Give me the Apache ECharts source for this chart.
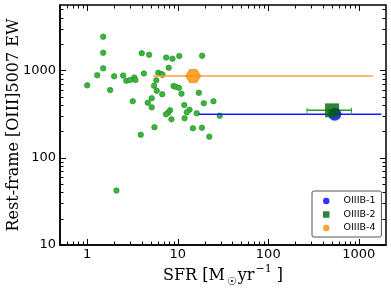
<!DOCTYPE html>
<html><head><meta charset="utf-8">
<script src="https://cdn.jsdelivr.net/npm/echarts@6/dist/echarts.min.js"></script>
<style>html,body{margin:0;padding:0;background:#fff}#c{width:391px;height:294px}</style>
</head><body><div id="c"></div>
<script>
// ---- data ----
const greenSFR = [1.50,1.50,1.50,1.29,1.00,1.98,1.79,2.49,2.70,2.97,3.31,3.41,4.00,4.82,4.23,3.18,6.09,6.61,6.78,5.79,5.47,5.86,6.74,5.16,4.66,5.16,7.46,8.74,10.4,7.95,8.99,9.50,10.3,11.0,18.6,17.1,19.4,24.8,11.8,13.5,12.6,8.22,7.85,7.41,16.2,29.1,8.52,11.9,5.53,3.90,14.7,18.5,22.3,2.10];
const greenEW  = [2430,1590,1054,879,673,854,595,872,760,774,827,774,1570,1509,919,443,939,907,891,770,666,584,532,479,425,377,1402,1358,1458,1071,661,647,630,540,1470,553,420,443,400,354,331,349,327,314,322,303,275,283,223,183,217,220,174,42];
const legendNames = ['OIIIB-1','OIIIB-2','OIIIB-4'];
const oiiib1 = [543, 315];       // SFR, EW
const oiiib1Err = [17.1, 1780];  // SFR low, high
const oiiib2 = [507, 348];
const oiiib2Err = [268, 830];
const oiiib4 = [14.8, 860];
const oiiib4Err = [5.33, 1440];
const xMajor = [1, 10, 100, 1000];
const yMajor = [10, 100, 1000];
const xMinor = [0.6,0.7,0.8,0.9,2,3,4,5,6,7,8,9,20,30,40,50,60,70,80,90,200,300,400,500,600,700,800,900];
const yMinor = [20,30,40,50,60,70,80,90,200,300,400,500,600,700,800,900,2000,3000,4000,5000];
const xRange = [0.5, 2000];
const yRange = [10, 5600];

// ---- chart ----
const chart = echarts.init(document.getElementById('c'), null, {renderer: 'canvas'});
const sans = 'DejaVu Sans';
const serif = 'DejaVu Serif';

// tick rows: [x, y, isXTick, isMajor]
const tickRows = []
  .concat(xMajor.map(v => [v, yRange[0], 1, 1]))
  .concat(xMinor.map(v => [v, yRange[0], 1, 0]))
  .concat(yMajor.map(v => [xRange[0], v, 0, 1]))
  .concat(yMinor.map(v => [xRange[0], v, 0, 0]));

const px = v => Math.round(v) + 0.5;

const tickSeries = {
  type: 'custom', name: 'ticks', z: 6, silent: true, clip: false,
  data: tickRows,
  encode: {x: 0, y: 1},
  renderItem: (params, api) => {
    const vx = api.value(0), vy = api.value(1), isX = api.value(2), len = api.value(3) ? 6 : 3.5;
    let s1, s2;
    if (isX) {
      const a = api.coord([vx, yRange[0]]), b = api.coord([vx, yRange[1]]);
      const x = px(a[0]);
      s1 = {x1: x, y1: a[1], x2: x, y2: a[1] - len};
      s2 = {x1: x, y1: b[1], x2: x, y2: b[1] + len};
    } else {
      const a = api.coord([xRange[0], vy]), b = api.coord([xRange[1], vy]);
      const y = px(a[1]);
      s1 = {x1: a[0], y1: y, x2: a[0] + len, y2: y};
      s2 = {x1: b[0], y1: y, x2: b[0] - len, y2: y};
    }
    return {type: 'group', children: [
      {type: 'line', shape: s1, style: {stroke: '#000', lineWidth: 1}},
      {type: 'line', shape: s2, style: {stroke: '#000', lineWidth: 1}}]};
  }
};

function errBar(lohi, y, color, cap, z) {
  return {
    type: 'custom', z: z, silent: true,
    data: [[lohi[0], lohi[1], y]],
    encode: {x: [0, 1], y: 2},
    renderItem: (params, api) => {
      const a = api.coord([api.value(0), api.value(2)]);
      const b = api.coord([api.value(1), api.value(2)]);
      const ch = [{type: 'line', shape: {x1: a[0], y1: a[1], x2: b[0], y2: b[1]},
                   style: {stroke: color, lineWidth: 1.5}}];
      if (cap) {
        ch.push({type: 'line', shape: {x1: a[0], y1: a[1] - cap, x2: a[0], y2: a[1] + cap}, style: {stroke: color, lineWidth: 1}});
        ch.push({type: 'line', shape: {x1: b[0], y1: b[1] - cap, x2: b[0], y2: b[1] + cap}, style: {stroke: color, lineWidth: 1}});
      }
      return {type: 'group', children: ch};
    }
  };
}

const hexPath = 'path://M0,0.866L0.5,0L1.5,0L2,0.866L1.5,1.732L0.5,1.732Z';

chart.setOption({
  animation: false,
  backgroundColor: '#fff',
  grid: {left: 60, top: 5, right: 5, bottom: 49, containLabel: false, outerBoundsMode: 'none',
         show: true, borderColor: '#000', borderWidth: 1.5, backgroundColor: 'transparent'},
  xAxis: {
    type: 'log', logBase: 10, min: xRange[0], max: xRange[1], position: 'bottom',
    axisLine: {show: true, onZero: false, lineStyle: {color: '#000', width: 1.5}},
    axisTick: {show: false},
    axisLabel: {show: true, customValues: xMajor, margin: 3, color: '#000',
                fontFamily: sans, fontSize: 13, formatter: v => String(Math.round(v))},
    splitLine: {show: false},
    name: '{m|SFR [M}{sub|☉}{m|yr}{sup|−1}{m| ]}', nameLocation: 'middle', nameGap: 19,
    nameMoveOverlap: false,
    nameTextStyle: {rich: {
      m: {fontFamily: serif, fontSize: 16, color: '#000', lineHeight: 24},
      sub: {fontFamily: serif, fontSize: 11, color: '#000', verticalAlign: 'bottom', lineHeight: 24, padding: [0,1,0,2]},
      sup: {fontFamily: serif, fontSize: 11, color: '#000', verticalAlign: 'top', lineHeight: 24, padding: [0,0,0,1]}
    }}
  },
  yAxis: {
    type: 'log', logBase: 10, min: yRange[0], max: yRange[1], position: 'left',
    axisLine: {show: true, onZero: false, lineStyle: {color: '#000', width: 1.5}},
    axisTick: {show: false},
    axisLabel: {show: true, customValues: yMajor, margin: 4, color: '#000',
                fontFamily: sans, fontSize: 13, formatter: v => String(Math.round(v))},
    splitLine: {show: false},
    name: 'Rest-frame [OIII]5007 EW', nameLocation: 'middle', nameGap: 38,
    nameMoveOverlap: false,
    nameTextStyle: {fontFamily: serif, fontSize: 16, color: '#000'}
  },
  legend: {
    orient: 'vertical', left: 312, top: 191,
    padding: [5, 6, 4, 11], itemGap: 3.5, itemWidth: 6.5, itemHeight: 6.5,
    backgroundColor: '#fff', borderColor: '#555', borderWidth: 1, borderRadius: 2,
    textStyle: {fontFamily: sans, fontSize: 9.5, color: '#000'},
    formatter: n => '   ' + n,
    data: [{name: legendNames[0], icon: 'circle'}, {name: legendNames[1], icon: 'rect'},
           {name: legendNames[2], icon: 'circle', itemStyle: {borderWidth: 0}}]
  },
  series: [
    tickSeries,
    {type: 'scatter', name: 'others', z: 2,
     data: greenSFR.map((s, i) => [s, greenEW[i]]), symbol: 'circle', symbolSize: 5.5,
     itemStyle: {color: '#37b837', borderColor: '#2a7f2a', borderWidth: 0.6, opacity: 1}},
    errBar(oiiib4Err, oiiib4[1], '#ffa43a', 0, 3),
    errBar(oiiib1Err, oiiib1[1], '#1a1aff', 0, 3),
    errBar(oiiib2Err, oiiib2[1], '#2a9a2a', 2.5, 3),
    {type: 'scatter', name: legendNames[0], z: 4,
     data: [oiiib1], symbol: 'circle', symbolSize: 13, itemStyle: {color: '#0000ff'}},
    {type: 'scatter', name: legendNames[1], z: 5,
     data: [oiiib2], symbol: 'rect', symbolSize: 14, itemStyle: {color: '#006400'}},
    {type: 'scatter', name: legendNames[2], z: 5,
     data: [oiiib4], symbol: hexPath, symbolSize: [15, 13], symbolKeepAspect: false,
     itemStyle: {color: '#ff8c00', borderColor: '#c86a00', borderWidth: 0.6}}
  ]
});
</script></body></html>
